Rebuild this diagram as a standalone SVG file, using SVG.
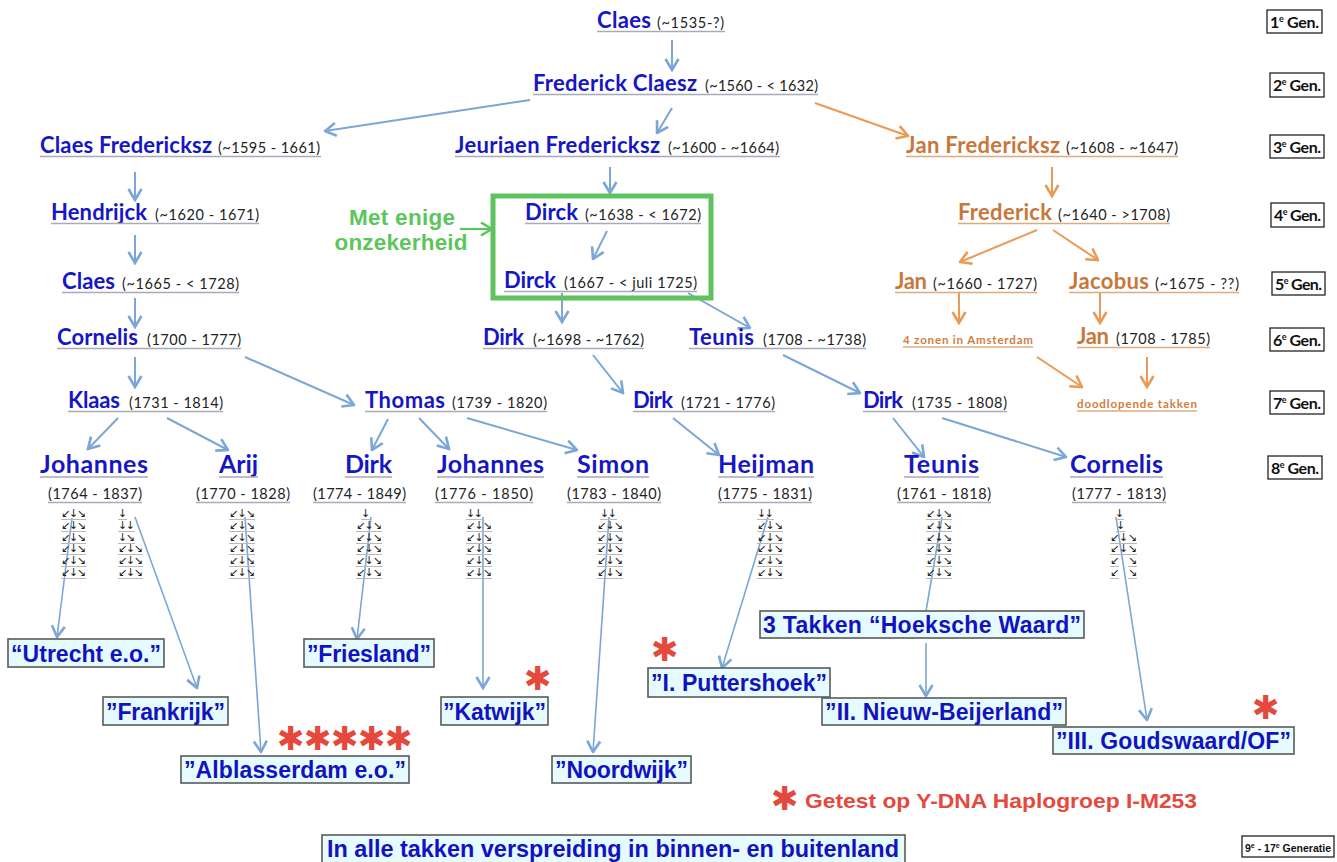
<svg xmlns="http://www.w3.org/2000/svg" width="1337" height="862" viewBox="0 0 1337 862">
<style>
.nm{font-family:Lato,"Open Sans",sans-serif;font-weight:700;font-size:22px;fill:#1616c4}
.n8{font-size:25px}
.or{fill:#c8773a}
.os{font-family:Lato,"Open Sans",sans-serif;font-weight:700;font-size:11.5px;fill:#d07d3e}
.dt{font-family:Lato,"Open Sans",sans-serif;font-size:14.5px;fill:#222}
.ul{stroke:#a7a9bd;stroke-width:1.3}
.uo{stroke:#ddaa80;stroke-width:1.3}
.stk{font-family:"DejaVu Sans",sans-serif;font-size:11px;fill:#222}
.su{stroke:#b8b8b8;stroke-width:1}
.bx{fill:#e5fbff;stroke:#5a5a5a;stroke-width:1.6}
.bt{font-family:"Liberation Sans",Arial,sans-serif;font-weight:700;font-size:23px;fill:#1212bf}
.star{font-family:"DejaVu Sans",sans-serif;font-size:33px;fill:#e5483c}
.gb{fill:#fff;stroke:#222;stroke-width:1.3}
.gt{font-family:Lato,"Open Sans",sans-serif;font-weight:700;font-size:16px;fill:#111}
.sup{font-size:9px;baseline-shift:6px}
.sup2{font-size:7px;baseline-shift:4px}
.cb{stroke:#7ba6d6;stroke-width:2;fill:none}
.ct{stroke:#7ba6d6;stroke-width:1.6;fill:none}
.co{stroke:#eb9a55;stroke-width:2;fill:none}
.cg{stroke:#5ec35e;stroke-width:2.2;fill:none}
.gr{font-family:"Liberation Sans",Arial,sans-serif;font-weight:700;font-size:22.5px;fill:#5cc65c}
</style>
<defs>
<marker id="ab" viewBox="0 0 14 16" refX="12.5" refY="8" markerWidth="14" markerHeight="16" markerUnits="userSpaceOnUse" orient="auto"><path d="M1.5,1.5 L12.5,8 L1.5,14.5" fill="none" stroke="#7ba6d6" stroke-width="2.6"/></marker>
<marker id="ao" viewBox="0 0 14 16" refX="12.5" refY="8" markerWidth="14" markerHeight="16" markerUnits="userSpaceOnUse" orient="auto"><path d="M1.5,1.5 L12.5,8 L1.5,14.5" fill="none" stroke="#eb9a55" stroke-width="2.6"/></marker>
<marker id="ag" viewBox="0 0 14 16" refX="12.5" refY="8" markerWidth="14" markerHeight="16" markerUnits="userSpaceOnUse" orient="auto"><path d="M1.5,1.5 L12.5,8 L1.5,14.5" fill="none" stroke="#5ec35e" stroke-width="2.6"/></marker>
</defs>
<rect width="1337" height="862" fill="#fff"/>

<!-- generation labels -->
<g id="gen-labels">
<rect class="gb" x="1267" y="10" width="55" height="23"/><text class="gt" x="1270" y="28" textLength="49">1<tspan class="sup">e</tspan> Gen.</text>
<rect class="gb" x="1270" y="73" width="54" height="24"/><text class="gt" x="1273" y="91" textLength="48">2<tspan class="sup">e</tspan> Gen.</text>
<rect class="gb" x="1270" y="135" width="54" height="23"/><text class="gt" x="1273" y="153" textLength="48">3<tspan class="sup">e</tspan> Gen.</text>
<rect class="gb" x="1271" y="203" width="53" height="24"/><text class="gt" x="1274" y="221" textLength="47">4<tspan class="sup">e</tspan> Gen.</text>
<rect class="gb" x="1272" y="272" width="53" height="23"/><text class="gt" x="1275" y="290" textLength="47">5<tspan class="sup">e</tspan> Gen.</text>
<rect class="gb" x="1270" y="328" width="54" height="23"/><text class="gt" x="1273" y="346" textLength="48">6<tspan class="sup">e</tspan> Gen.</text>
<rect class="gb" x="1270" y="391" width="54" height="23"/><text class="gt" x="1273" y="409" textLength="48">7<tspan class="sup">e</tspan> Gen.</text>
<rect class="gb" x="1268" y="456" width="54" height="23"/><text class="gt" x="1271" y="474" textLength="48">8<tspan class="sup">e</tspan> Gen.</text>
</g>

<!-- connectors -->
<g id="connectors">
<line class="cb" x1="672" y1="40" x2="672" y2="70" marker-end="url(#ab)"/>
<line class="cb" x1="530" y1="100" x2="325" y2="131" marker-end="url(#ab)"/>
<line class="cb" x1="672" y1="108" x2="657" y2="133" marker-end="url(#ab)"/>
<line class="co" x1="815" y1="103" x2="908" y2="136" marker-end="url(#ao)"/>
<line class="cb" x1="135" y1="172" x2="135" y2="200" marker-end="url(#ab)"/>
<line class="cb" x1="610" y1="167" x2="610" y2="193" marker-end="url(#ab)"/>
<line class="co" x1="1052" y1="167" x2="1052" y2="196" marker-end="url(#ao)"/>
<line class="cg" x1="460" y1="229" x2="492" y2="229" marker-end="url(#ag)"/>
<line class="cb" x1="135" y1="235" x2="135" y2="263" marker-end="url(#ab)"/>
<line class="cb" x1="607" y1="231" x2="593" y2="259" marker-end="url(#ab)"/>
<line class="co" x1="1037" y1="230" x2="960" y2="262" marker-end="url(#ao)"/>
<line class="co" x1="1053" y1="230" x2="1098" y2="260" marker-end="url(#ao)"/>
<line class="cb" x1="135" y1="298" x2="135" y2="327" marker-end="url(#ab)"/>
<line class="cb" x1="562" y1="293" x2="562" y2="322" marker-end="url(#ab)"/>
<line class="cb" x1="688" y1="293" x2="750" y2="328" marker-end="url(#ab)"/>
<line class="co" x1="959" y1="293" x2="959" y2="323" marker-end="url(#ao)"/>
<line class="co" x1="1100" y1="293" x2="1100" y2="323" marker-end="url(#ao)"/>
<line class="cb" x1="135" y1="357" x2="135" y2="387" marker-end="url(#ab)"/>
<line class="cb" x1="245" y1="357" x2="354" y2="405" marker-end="url(#ab)"/>
<line class="cb" x1="593" y1="355" x2="623" y2="393" marker-end="url(#ab)"/>
<line class="cb" x1="783" y1="355" x2="860" y2="393" marker-end="url(#ab)"/>
<line class="co" x1="1037" y1="357" x2="1082" y2="387" marker-end="url(#ao)"/>
<line class="co" x1="1147" y1="357" x2="1147" y2="387" marker-end="url(#ao)"/>
<line class="cb" x1="118" y1="418" x2="88" y2="449" marker-end="url(#ab)"/>
<line class="cb" x1="167" y1="418" x2="228" y2="450" marker-end="url(#ab)"/>
<line class="cb" x1="388" y1="419" x2="372" y2="450" marker-end="url(#ab)"/>
<line class="cb" x1="419" y1="418" x2="449" y2="449" marker-end="url(#ab)"/>
<line class="cb" x1="467" y1="418" x2="577" y2="450" marker-end="url(#ab)"/>
<line class="cb" x1="673" y1="418" x2="719" y2="455" marker-end="url(#ab)"/>
<line class="cb" x1="893" y1="418" x2="924" y2="457" marker-end="url(#ab)"/>
<line class="cb" x1="942" y1="418" x2="1066" y2="457" marker-end="url(#ab)"/>
<line class="ct" x1="72" y1="518" x2="57" y2="637" marker-end="url(#ab)"/>
<line class="ct" x1="135" y1="517" x2="197" y2="688" marker-end="url(#ab)"/>
<line class="ct" x1="245" y1="517" x2="261" y2="752" marker-end="url(#ab)"/>
<line class="ct" x1="371" y1="517" x2="357" y2="639" marker-end="url(#ab)"/>
<line class="ct" x1="483" y1="517" x2="483" y2="688" marker-end="url(#ab)"/>
<line class="ct" x1="609" y1="517" x2="593" y2="752" marker-end="url(#ab)"/>
<line class="ct" x1="768" y1="517" x2="722" y2="668" marker-end="url(#ab)"/>
<line class="ct" x1="942" y1="517" x2="926" y2="611"/>
<line class="ct" x1="926" y1="643" x2="926" y2="696" marker-end="url(#ab)"/>
<line class="ct" x1="1116" y1="517" x2="1147" y2="720" marker-end="url(#ab)"/>
</g>

<!-- uncertainty box -->
<g id="uncertain">
<rect x="493" y="196" width="218" height="102" fill="none" stroke="#5ec35e" stroke-width="5"/>
<text class="gr" x="402" y="225" text-anchor="middle" textLength="106">Met enige</text>
<text class="gr" x="401" y="250" text-anchor="middle" textLength="133">onzekerheid</text>
</g>

<!-- persons -->
<g id="p-claes-1535"><text class="nm" x="597" y="28" textLength="54">Claes</text><text class="dt" x="657" y="28" textLength="67">(~1535-?)</text><line class="ul" x1="597" y1="31.5" x2="725" y2="31.5"/></g>
<g id="p-frederick-claesz"><text class="nm" x="533" y="91" textLength="164">Frederick Claesz</text><text class="dt" x="705" y="91" textLength="113">(~1560 - &lt; 1632)</text><line class="ul" x1="533" y1="94.5" x2="818" y2="94.5"/></g>
<g id="p-claes-fredericksz"><text class="nm" x="40" y="153" textLength="172">Claes Fredericksz</text><text class="dt" x="218" y="153" textLength="102">(~1595 - 1661)</text><line class="ul" x1="40" y1="156.5" x2="321" y2="156.5"/></g>
<g id="p-jeuriaen"><text class="nm" x="455" y="153" textLength="205">Jeuriaen Fredericksz</text><text class="dt" x="668" y="153" textLength="111">(~1600 - ~1664)</text><line class="ul" x1="455" y1="156.5" x2="780" y2="156.5"/></g>
<g id="p-jan-fredericksz"><text class="nm or" x="906" y="153" textLength="154">Jan Fredericksz</text><text class="dt" x="1066" y="153" textLength="112">(~1608 - ~1647)</text><line class="uo" x1="906" y1="156.5" x2="1178" y2="156.5"/></g>
<g id="p-hendrijck"><text class="nm" x="51" y="220" textLength="96">Hendrijck</text><text class="dt" x="155" y="220" textLength="104">(~1620 - 1671)</text><line class="ul" x1="51" y1="223.5" x2="259" y2="223.5"/></g>
<g id="p-dirck-1638"><text class="nm" x="525" y="220" textLength="53">Dirck</text><text class="dt" x="585" y="220" textLength="116">(~1638 - &lt; 1672)</text><line class="ul" x1="525" y1="223.5" x2="701" y2="223.5"/></g>
<g id="p-frederick-1640"><text class="nm or" x="958" y="220" textLength="94">Frederick</text><text class="dt" x="1058" y="220" textLength="112">(~1640 - &gt;1708)</text><line class="uo" x1="958" y1="223.5" x2="1170" y2="223.5"/></g>
<g id="p-claes-1665"><text class="nm" x="62" y="289" textLength="53">Claes</text><text class="dt" x="122" y="289" textLength="117">(~1665 - &lt; 1728)</text><line class="ul" x1="62" y1="292.5" x2="239" y2="292.5"/></g>
<g id="p-dirck-1667"><text class="nm" x="504" y="288" textLength="52">Dirck</text><text class="dt" x="564" y="288" textLength="133">(1667 - &lt; juli 1725)</text><line class="ul" x1="504" y1="291.5" x2="697" y2="291.5"/></g>
<g id="p-jan-1660"><text class="nm or" x="895" y="289" textLength="32">Jan</text><text class="dt" x="933" y="289" textLength="104">(~1660 - 1727)</text><line class="uo" x1="895" y1="292.5" x2="1037" y2="292.5"/></g>
<g id="p-jacobus"><text class="nm or" x="1069" y="289" textLength="80">Jacobus</text><text class="dt" x="1155" y="289" textLength="84">(~1675 - ??)</text><line class="uo" x1="1069" y1="292.5" x2="1239" y2="292.5"/></g>
<g id="p-cornelis-1700"><text class="nm" x="57" y="345" textLength="81">Cornelis</text><text class="dt" x="147" y="345" textLength="94">(1700 - 1777)</text><line class="ul" x1="57" y1="348.5" x2="241" y2="348.5"/></g>
<g id="p-dirk-1698"><text class="nm" x="483" y="345" textLength="41">Dirk</text><text class="dt" x="533" y="345" textLength="111">(~1698 - ~1762)</text><line class="ul" x1="483" y1="348.5" x2="644" y2="348.5"/></g>
<g id="p-teunis-1708"><text class="nm" x="689" y="345" textLength="65">Teunis</text><text class="dt" x="763" y="345" textLength="103">(1708 - ~1738)</text><line class="ul" x1="689" y1="348.5" x2="866" y2="348.5"/></g>
<g id="p-4zonen"><text class="os" x="903" y="344" textLength="130">4 zonen in Amsterdam</text><line class="uo" x1="903" y1="347" x2="1033" y2="347"/></g>
<g id="p-jan-1708"><text class="nm or" x="1077" y="344" textLength="32">Jan</text><text class="dt" x="1116" y="344" textLength="94">(1708 - 1785)</text><line class="uo" x1="1077" y1="347.5" x2="1210" y2="347.5"/></g>
<g id="p-klaas"><text class="nm" x="68" y="408" textLength="52">Klaas</text><text class="dt" x="129" y="408" textLength="94">(1731 - 1814)</text><line class="ul" x1="68" y1="411.5" x2="223" y2="411.5"/></g>
<g id="p-thomas"><text class="nm" x="365" y="408" textLength="80">Thomas</text><text class="dt" x="452" y="408" textLength="95">(1739 - 1820)</text><line class="ul" x1="365" y1="411.5" x2="547" y2="411.5"/></g>
<g id="p-dirk-1721"><text class="nm" x="633" y="408" textLength="40">Dirk</text><text class="dt" x="681" y="408" textLength="94">(1721 - 1776)</text><line class="ul" x1="633" y1="411.5" x2="775" y2="411.5"/></g>
<g id="p-dirk-1735"><text class="nm" x="863" y="408" textLength="40">Dirk</text><text class="dt" x="912" y="408" textLength="95">(1735 - 1808)</text><line class="ul" x1="863" y1="411.5" x2="1007" y2="411.5"/></g>
<g id="p-doodlopend"><text class="os" x="1077" y="408" textLength="120">doodlopende takken</text><line class="uo" x1="1077" y1="411" x2="1197" y2="411"/></g>

<g id="p-johannes-1764"><text class="nm n8" x="40" y="473" textLength="108">Johannes</text><line class="ul" x1="40" y1="477" x2="148" y2="477"/><text class="dt" x="48" y="499" textLength="94">(1764 - 1837)</text><line class="ul" x1="48" y1="502.5" x2="142" y2="502.5"/></g>
<g id="p-arij"><text class="nm n8" x="219" y="473" textLength="39">Arij</text><line class="ul" x1="219" y1="477" x2="258" y2="477"/><text class="dt" x="196" y="499" textLength="94">(1770 - 1828)</text><line class="ul" x1="196" y1="502.5" x2="290" y2="502.5"/></g>
<g id="p-dirk-1774"><text class="nm n8" x="345" y="473" textLength="47">Dirk</text><line class="ul" x1="345" y1="477" x2="392" y2="477"/><text class="dt" x="313" y="499" textLength="93">(1774 - 1849)</text><line class="ul" x1="313" y1="502.5" x2="406" y2="502.5"/></g>
<g id="p-johannes-1776"><text class="nm n8" x="437" y="473" textLength="107">Johannes</text><line class="ul" x1="437" y1="477" x2="544" y2="477"/><text class="dt" x="435" y="499" textLength="98">(1776 - 1850)</text><line class="ul" x1="435" y1="502.5" x2="533" y2="502.5"/></g>
<g id="p-simon"><text class="nm n8" x="577" y="473" textLength="72">Simon</text><line class="ul" x1="577" y1="477" x2="649" y2="477"/><text class="dt" x="567" y="499" textLength="94">(1783 - 1840)</text><line class="ul" x1="567" y1="502.5" x2="661" y2="502.5"/></g>
<g id="p-heijman"><text class="nm n8" x="718" y="473" textLength="96">Heijman</text><line class="ul" x1="718" y1="477" x2="814" y2="477"/><text class="dt" x="718" y="499" textLength="94">(1775 - 1831)</text><line class="ul" x1="718" y1="502.5" x2="812" y2="502.5"/></g>
<g id="p-teunis-1761"><text class="nm n8" x="904" y="473" textLength="75">Teunis</text><line class="ul" x1="904" y1="477" x2="979" y2="477"/><text class="dt" x="897" y="499" textLength="94">(1761 - 1818)</text><line class="ul" x1="897" y1="502.5" x2="991" y2="502.5"/></g>
<g id="p-cornelis-1777"><text class="nm n8" x="1070" y="473" textLength="93">Cornelis</text><line class="ul" x1="1070" y1="477" x2="1163" y2="477"/><text class="dt" x="1072" y="499" textLength="94">(1777 - 1813)</text><line class="ul" x1="1072" y1="502.5" x2="1166" y2="502.5"/></g>

<!-- arrow stacks -->
<g id="stack-johannes-a" class="stk">
<text x="61" y="517" textLength="25">↙↓↘</text><text x="61" y="529" textLength="25">↙↓↘</text><text x="61" y="541" textLength="25">↙↓↘</text><text x="61" y="552" textLength="25">↙↓↘</text><text x="61" y="564" textLength="25">↙↓↘</text><text x="61" y="576" textLength="25">↙↓↘</text>
<path class="su" d="M61 519.5H86M61 531.5H86M61 543.5H86M61 554.5H86M61 566.5H86M61 578.5H86"/>
</g>
<g id="stack-johannes-b" class="stk">
<text x="118" y="517">↓</text><text x="118" y="529" textLength="17">↓↓</text><text x="118" y="541" textLength="17">↓↘</text><text x="118" y="552" textLength="25">↙↓↘</text><text x="118" y="564" textLength="25">↙↓↘</text><text x="118" y="576" textLength="25">↙↓↘</text>
<path class="su" d="M118 519.5H127M118 531.5H135M118 543.5H135M118 554.5H143M118 566.5H143M118 578.5H143"/>
</g>
<g id="stack-arij" class="stk">
<text x="229" y="517" textLength="26">↙↓↘</text><text x="229" y="529" textLength="26">↙↓↘</text><text x="229" y="541" textLength="26">↙↓↘</text><text x="229" y="552" textLength="26">↙↓↘</text><text x="229" y="564" textLength="26">↙↓↘</text><text x="229" y="576" textLength="26">↙↓↘</text>
<path class="su" d="M229 519.5H255M229 531.5H255M229 543.5H255M229 554.5H255M229 566.5H255M229 578.5H255"/>
</g>
<g id="stack-dirk" class="stk">
<text x="361" y="517">↓</text><text x="356" y="529" textLength="26">↙↓↘</text><text x="356" y="541" textLength="26">↙↓↘</text><text x="356" y="552" textLength="26">↙↓↘</text><text x="356" y="564" textLength="26">↙↓↘</text><text x="356" y="576" textLength="26">↙↓↘</text>
<path class="su" d="M361 519.5H370M356 531.5H382M356 543.5H382M356 554.5H382M356 566.5H382M356 578.5H382"/>
</g>
<g id="stack-johannes-1776" class="stk">
<text x="466" y="517" textLength="17">↓↓</text><text x="466" y="529" textLength="26">↙↓↘</text><text x="466" y="541" textLength="26">↙↓↘</text><text x="466" y="552" textLength="26">↙↓↘</text><text x="466" y="564" textLength="26">↙↓↘</text><text x="466" y="576" textLength="26">↙↓↘</text>
<path class="su" d="M466 519.5H483M466 531.5H492M466 543.5H492M466 554.5H492M466 566.5H492M466 578.5H492"/>
</g>
<g id="stack-simon" class="stk">
<text x="600" y="517" textLength="17">↓↓</text><text x="597" y="529" textLength="26">↙↓↘</text><text x="597" y="541" textLength="26">↙↓↘</text><text x="597" y="552" textLength="26">↙↓↘</text><text x="597" y="564" textLength="26">↙↓↘</text><text x="597" y="576" textLength="26">↙↓↘</text>
<path class="su" d="M600 519.5H617M597 531.5H623M597 543.5H623M597 554.5H623M597 566.5H623M597 578.5H623"/>
</g>
<g id="stack-heijman" class="stk">
<text x="757" y="517" textLength="17">↓↓</text><text x="757" y="529" textLength="26">↙↓↘</text><text x="757" y="541" textLength="26">↙↓↘</text><text x="757" y="552" textLength="26">↙↓↘</text><text x="757" y="564" textLength="26">↙↓↘</text><text x="757" y="576" textLength="26">↙↓↘</text>
<path class="su" d="M757 519.5H774M757 531.5H783M757 543.5H783M757 554.5H783M757 566.5H783M757 578.5H783"/>
</g>
<g id="stack-teunis" class="stk">
<text x="926" y="517" textLength="26">↙↓↘</text><text x="926" y="529" textLength="26">↙↓↘</text><text x="926" y="541" textLength="26">↙↓↘</text><text x="926" y="552" textLength="26">↙↓↘</text><text x="926" y="564" textLength="26">↙↓↘</text><text x="926" y="576" textLength="26">↙↓↘</text>
<path class="su" d="M926 519.5H952M926 531.5H952M926 543.5H952M926 554.5H952M926 566.5H952M926 578.5H952"/>
</g>
<g id="stack-cornelis" class="stk">
<text x="1115" y="517">↓</text><text x="1116" y="529">↓</text><text x="1110" y="541" textLength="27">↙↓↘</text><text x="1110" y="552" textLength="27">↙↓↘</text><text x="1110" y="564">↙</text><text x="1128" y="564">↘</text><text x="1110" y="576">↙</text><text x="1128" y="576">↘</text>
<path class="su" d="M1115 519.5H1124M1116 531.5H1125M1110 543.5H1137M1110 554.5H1137M1110 566.5H1119M1128 566.5H1137M1110 578.5H1119M1128 578.5H1137"/>
</g>

<!-- destination boxes -->
<g id="b-utrecht"><rect class="bx" x="8" y="639" width="156" height="28"/><text class="bt" x="11" y="662" textLength="150">“Utrecht e.o.”</text></g>
<g id="b-frankrijk"><rect class="bx" x="103" y="697" width="125" height="28"/><text class="bt" x="106" y="720" textLength="119">”Frankrijk”</text></g>
<g id="b-friesland"><rect class="bx" x="304" y="639" width="130" height="28"/><text class="bt" x="307" y="662" textLength="124">”Friesland”</text></g>
<g id="b-alblasserdam"><rect class="bx" x="181" y="756" width="228" height="27"/><text class="bt" x="184" y="778" textLength="222">”Alblasserdam e.o.”</text></g>
<g id="b-katwijk"><rect class="bx" x="441" y="697" width="107" height="28"/><text class="bt" x="443" y="720" textLength="103">”Katwijk”</text></g>
<g id="b-noordwijk"><rect class="bx" x="552" y="756" width="139" height="27"/><text class="bt" x="555" y="778" textLength="133">”Noordwijk”</text></g>
<g id="b-puttershoek"><rect class="bx" x="648" y="668" width="182" height="29"/><text class="bt" x="651" y="691" textLength="176">”I. Puttershoek”</text></g>
<g id="b-hoeksche"><rect class="bx" x="760" y="611" width="324" height="27"/><text class="bt" x="763" y="633" textLength="318">3 Takken “Hoeksche Waard”</text></g>
<g id="b-nieuw-beijerland"><rect class="bx" x="822" y="698" width="244" height="27"/><text class="bt" x="825" y="720" textLength="238">”II. Nieuw-Beijerland”</text></g>
<g id="b-goudswaard"><rect class="bx" x="1053" y="727" width="241" height="27"/><text class="bt" x="1056" y="749" textLength="235">”III. Goudswaard/OF”</text></g>

<!-- stars -->
<g id="stars">
<text class="star" x="277 304 331 358 385" y="750">✱✱✱✱✱</text>
<text class="star" x="524" y="690">✱</text>
<text class="star" x="651" y="661">✱</text>
<text class="star" x="1252" y="719">✱</text>
</g>

<!-- legend -->
<g id="legend">
<text class="star" x="771" y="810">✱</text>
<text x="805" y="808" font-family="Liberation Sans, Arial, sans-serif" font-weight="700" font-size="21" fill="#e5483c" textLength="392" lengthAdjust="spacingAndGlyphs">Getest op Y-DNA Haplogroep I-M253</text>
</g>

<g id="footer">
<rect class="bx" x="322" y="835" width="583" height="32"/>
<text x="327" y="857" font-family="Liberation Sans, Arial, sans-serif" font-weight="700" font-size="24" fill="#1212bf" textLength="572" lengthAdjust="spacingAndGlyphs">In alle takken verspreiding in binnen- en buitenland</text>
<rect class="gb" x="1242" y="836" width="92" height="21"/>
<text x="1245" y="852" font-family="Liberation Sans, Arial, sans-serif" font-weight="700" font-size="10.5" fill="#111">9<tspan class="sup2">e</tspan> - 17<tspan class="sup2">e</tspan> Generatie</text>
</g>
</svg>
